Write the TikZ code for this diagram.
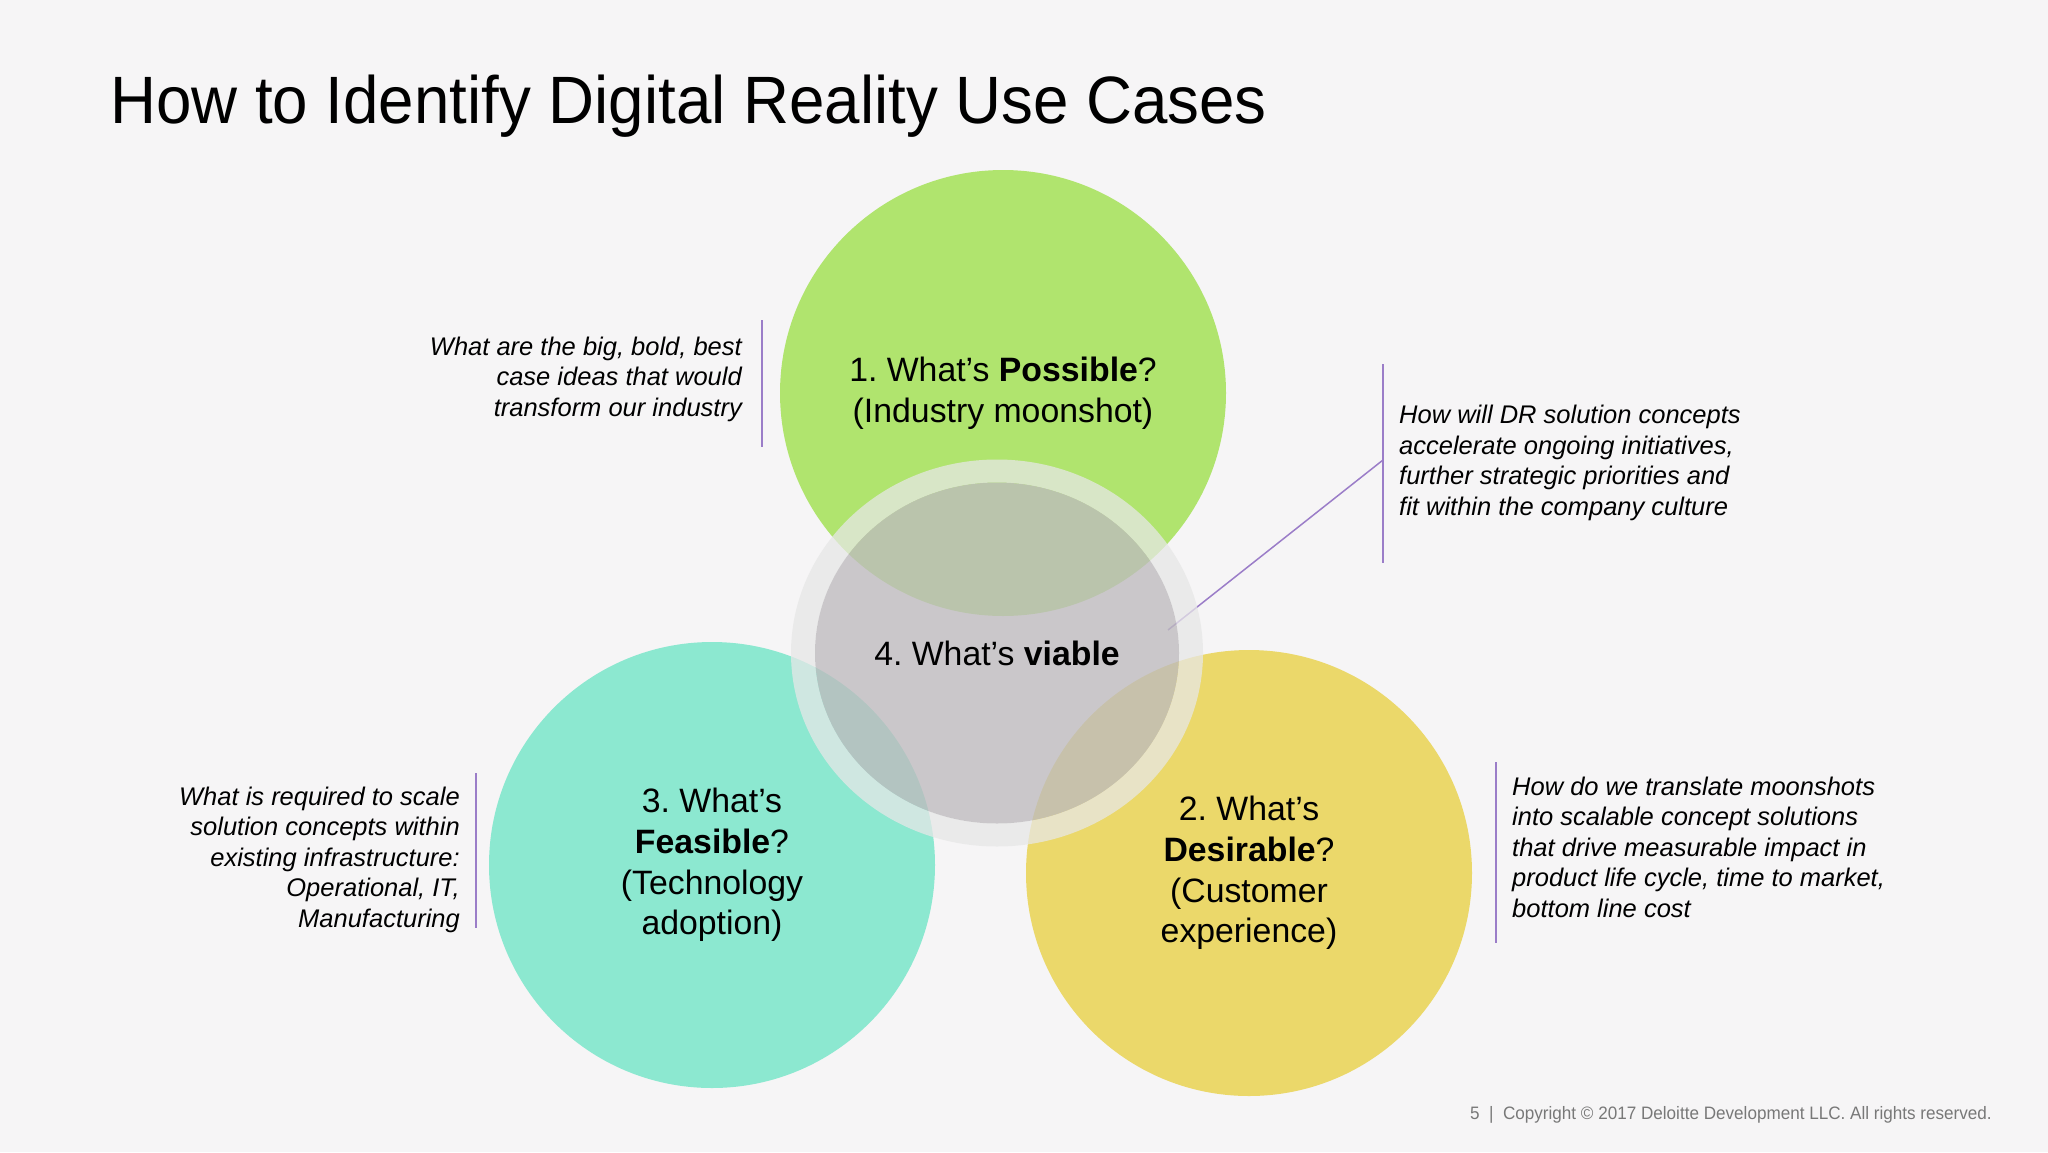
\documentclass[tikz,border=0pt]{standalone}
\usepackage{fontspec}
\setmainfont{Liberation Sans}
\usepackage{graphicx}
\usetikzlibrary{shapes.geometric,positioning,calc}
\definecolor{bgc}{RGB}{246,245,246}
\definecolor{possc}{RGB}{176,228,110}
\definecolor{feasc}{RGB}{140,232,208}
\definecolor{desc}{RGB}{235,216,106}
\definecolor{viac}{RGB}{190,187,190}
\definecolor{ringc}{RGB}{231,231,231}
\definecolor{barc}{RGB}{155,125,200}
\definecolor{footc}{RGB}{120,120,120}
\frenchspacing

\begin{document}
\begin{tikzpicture}[x=1pt, y=-1pt,
  bubble/.style={circle, minimum size=446, inner sep=0, align=center,
    font=\fontsize{33.8}{40.8}\selectfont},
  note/.style={inner sep=0, font=\fontsize{25.5}{30.5}\selectfont\itshape},
  bar/.style={draw=barc, line width=2},
  ]
\useasboundingbox[fill=bgc] (0,0) rectangle (2048,1152);

% title
\node[anchor=base west, inner sep=0, font=\fontsize{67}{70}\selectfont] (title) at (110,123)
  {\scalebox{0.95}[1]{How to Identify Digital Reality Use Cases}};

% the three circles
\node[bubble, fill=possc] (poss) at (1003,393) {1. What’s \textbf{Possible}?\\(Industry moonshot)};
\node[bubble, fill=feasc] (feas) at (712,865) {3. What’s\\\textbf{Feasible}?\\(Technology\\adoption)};
\node[bubble, fill=desc]  (des)  at (1249,873) {2. What’s\\\textbf{Desirable}?\\(Customer\\experience)};

% notes with bars (base = last line)
\node[note, anchor=base east, align=right] (n1) at (742,416)
  {What are the big, bold, best\\case ideas that would\\transform our industry};
\coordinate (b1t) at (762,320);
\coordinate (b1b) at (762,447);
\draw[bar] (b1t) -- (b1b);

\node[note, anchor=base west, align=left] (n2) at (1399,515)
  {How will DR solution concepts\\accelerate ongoing initiatives,\\further strategic priorities and\\fit within the company culture};
\coordinate (b2t) at (1383,364);
\coordinate (b2b) at (1383,563);
\coordinate (knee) at (1383,460);
\coordinate (tip) at (1168,630);
\draw[bar] (b2t) -- (b2b);
\draw[draw=barc, line width=1.5] (knee) -- (tip);

\node[note, anchor=base east, align=right] (n3) at (460,927)
  {What is required to scale\\solution concepts within\\existing infrastructure:\\Operational, IT,\\Manufacturing};
\coordinate (b3t) at (476,773);
\coordinate (b3b) at (476,928);
\draw[bar] (b3t) -- (b3b);

\node[note, anchor=base west, align=left] (n4) at (1512,917)
  {How do we translate moonshots\\into scalable concept solutions\\that drive measurable impact in\\product life cycle, time to market,\\bottom line cost};
\coordinate (b4t) at (1496,762);
\coordinate (b4b) at (1496,943);
\draw[bar] (b4t) -- (b4b);

% centre: what's viable
\fill[ringc, fill opacity=0.74, even odd rule]
  (997,653) ellipse [x radius=206, y radius=193.5]
  (997,653) ellipse [x radius=182, y radius=170.5];
\node[ellipse, minimum width=364, minimum height=341, inner sep=0,
  fill=viac, fill opacity=0.78, text opacity=1,
  font=\fontsize{33.8}{40.8}\selectfont] (via) at (997,653) {4. What’s \textbf{viable}};

% footer
\node[anchor=base east, inner sep=0, text=footc, font=\fontsize{18}{20}\selectfont] (foot) at (1992,1119)
  {\scalebox{0.95}[1]{5~~|~~Copyright © 2017 Deloitte Development LLC. All rights reserved.}};
\end{tikzpicture}
\end{document}
